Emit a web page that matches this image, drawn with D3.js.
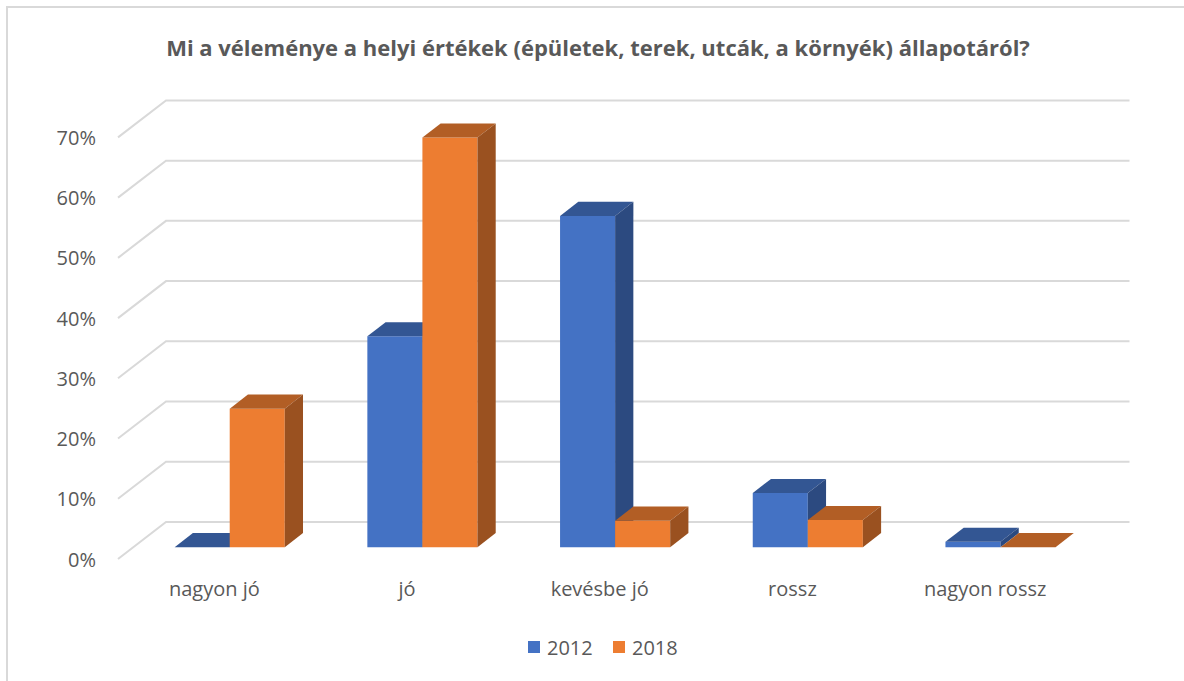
<!DOCTYPE html>
<html>
<head>
<meta charset="utf-8">
<title>Helyi értékek</title>
<style>
body { margin: 0; background: #fff; }
text { font-family: "Open Sans", "Noto Sans", sans-serif; fill: #595959; }
.title { font-weight: bold; font-size: 22px; }
.tick { font-size: 20px; }
.gridline { stroke: #d9d9d9; stroke-width: 2px; fill: none; }
</style>
</head>
<body>
<script src="https://cdn.jsdelivr.net/npm/d3@7"></script>
<script>

// data
var categories = ["nagyon jó", "jó", "kevésbe jó", "rossz", "nagyon rossz"];
var seriesNames = ["2012", "2018"];
var values2012 = [0, 0.35, 0.55, 0.09, 0.009];
var values2018 = [0.23, 0.68, 0.044, 0.045, 0];
var yTicks = [0, 0.1, 0.2, 0.3, 0.4, 0.5, 0.6, 0.7];
var colors = ["#4472c4", "#ed7d31"];

var width = 1184,
    height = 681;

// 3d geometry (oblique projection)
var originX = 118, originY = 559;     // front-left corner of the floor
var plotW = 963.5;
var depthX = 48, depthY = -37;        // full floor depth vector
var d0 = 0.32, d1 = 0.70;             // bars sit between these depth fractions

var svg = d3.select("body").append("svg")
    .attr("width", width)
    .attr("height", height);

// chart border (right/bottom cropped in the original)
svg.append("path")
    .attr("d", "M7," + height + "V7H" + width)
    .attr("fill", "none")
    .attr("stroke", "#d9d9d9")
    .attr("stroke-width", 2);

svg.append("text")
    .attr("class", "title")
    .attr("x", 598)
    .attr("y", 47)
    .attr("text-anchor", "middle")
    .attr("dominant-baseline", "central")
    .text("Mi a véleménye a helyi értékek (épületek, terek, utcák, a környék) állapotáról?");

var x = d3.scaleBand()
    .domain(categories)
    .range([0, plotW]);

var bw = x.bandwidth();
var gap = bw / (2 / 1.5 + 1);   // gap width 150%
var xs = d3.scaleBand()
    .domain(seriesNames)
    .range([gap / 2, bw - gap / 2]);

var y = d3.scaleLinear()
    .domain([0, 0.7])
    .range([0, 421.6]);

// project (px along x, height in px, depth fraction) to screen
function proj(px, h, d) {
  return [originX + px + d * depthX, originY - h + d * depthY];
}

// gridlines: left wall diagonal + back wall
var grid = svg.append("g");
yTicks.forEach(function(t) {
  var a = proj(0, y(t), 0),
      b = proj(0, y(t), 1),
      c = proj(plotW, y(t), 1);
  grid.append("path")
      .attr("class", "gridline")
      .attr("d", "M" + a + "L" + b + "L" + c);
});

// y tick labels
svg.append("g").selectAll("text")
    .data(yTicks)
    .enter().append("text")
    .attr("class", "tick")
    .attr("x", 96)
    .attr("y", function(d) { return proj(0, y(d), 0)[1]; })
    .attr("text-anchor", "end")
    .attr("dominant-baseline", "central")
    .text(d3.format(".0%"));

// category labels
svg.append("g").selectAll("text")
    .data(categories)
    .enter().append("text")
    .attr("class", "tick")
    .attr("x", function(d) { return proj(x(d) + bw / 2, 0, 0)[0]; })
    .attr("y", 588)
    .attr("text-anchor", "middle")
    .attr("dominant-baseline", "central")
    .text(function(d) { return d; });

// bars
var bars = [];
categories.forEach(function(c, i) {
  bars.push({cat: c, s: 0, v: values2012[i]});
  bars.push({cat: c, s: 1, v: values2018[i]});
});

function poly(pts) {
  return "M" + pts.map(function(p) { return p.join(","); }).join("L") + "Z";
}

var barG = svg.append("g").selectAll("g")
    .data(bars)
    .enter().append("g");

barG.each(function(d) {
  var g = d3.select(this);
  var xl = x(d.cat) + xs(seriesNames[d.s]),
      xr = xl + xs.bandwidth(),
      h = y(d.v);
  var base = d3.color(colors[d.s]);
  // front
  g.append("path")
      .attr("d", poly([proj(xl, 0, d0), proj(xr, 0, d0), proj(xr, h, d0), proj(xl, h, d0)]))
      .attr("fill", base);
  // top
  g.append("path")
      .attr("d", poly([proj(xl, h, d0), proj(xr, h, d0), proj(xr, h, d1), proj(xl, h, d1)]))
      .attr("fill", base.darker(0.8));
  // right side
  g.append("path")
      .attr("d", poly([proj(xr, 0, d0), proj(xr, 0, d1), proj(xr, h, d1), proj(xr, h, d0)]))
      .attr("fill", base.darker(1.2));
});

// legend
var legendX = [528, 613];
var legend = svg.append("g").selectAll("g")
    .data(seriesNames)
    .enter().append("g")
    .attr("transform", function(d, i) { return "translate(" + legendX[i] + ",647)"; });

legend.append("rect")
    .attr("x", 0)
    .attr("y", -6)
    .attr("width", 12)
    .attr("height", 12)
    .attr("fill", function(d, i) { return colors[i]; });

legend.append("text")
    .attr("class", "tick")
    .attr("x", 19)
    .attr("y", 0)
    .attr("dominant-baseline", "central")
    .text(function(d) { return d; });

</script>
</body>
</html>
